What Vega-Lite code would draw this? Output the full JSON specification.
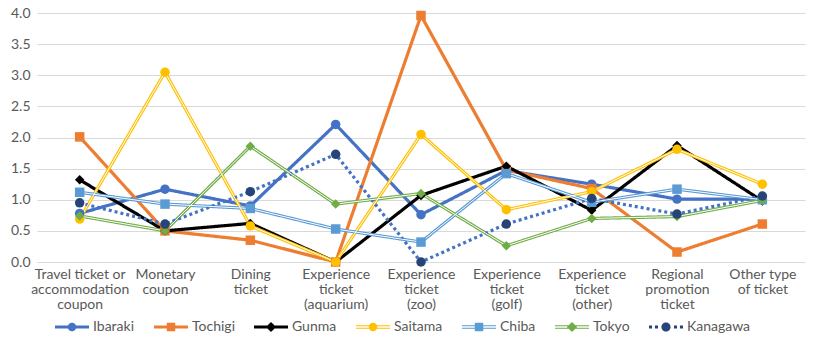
{
 "$schema": "https://vega.github.io/schema/vega-lite/v6.json",
 "width": 768,
 "height": 249,
 "autosize": "none",
 "padding": {"left": 37, "top": 13, "right": 10, "bottom": 81},
 "background": "white",
 "config": {
  "view": {"stroke": null},
  "font": "Lato",
  "axis": {"labelFont": "Lato", "labelColor": "#595959", "labelFontSize": 14}
 },
 "data": {"values": [
  {"category": "Travel ticket or\naccommodation\ncoupon", "series": "Ibaraki", "value": 0.78},
  {"category": "Monetary\ncoupon", "series": "Ibaraki", "value": 1.17},
  {"category": "Dining\nticket", "series": "Ibaraki", "value": 0.90},
  {"category": "Experience\nticket\n(aquarium)", "series": "Ibaraki", "value": 2.21},
  {"category": "Experience\nticket\n(zoo)", "series": "Ibaraki", "value": 0.76},
  {"category": "Experience\nticket\n(golf)", "series": "Ibaraki", "value": 1.47},
  {"category": "Experience\nticket\n(other)", "series": "Ibaraki", "value": 1.25},
  {"category": "Regional\npromotion\nticket", "series": "Ibaraki", "value": 1.01},
  {"category": "Other type\nof ticket", "series": "Ibaraki", "value": 1.01},
  {"category": "Travel ticket or\naccommodation\ncoupon", "series": "Tochigi", "value": 2.01},
  {"category": "Monetary\ncoupon", "series": "Tochigi", "value": 0.50},
  {"category": "Dining\nticket", "series": "Tochigi", "value": 0.35},
  {"category": "Experience\nticket\n(aquarium)", "series": "Tochigi", "value": 0.00},
  {"category": "Experience\nticket\n(zoo)", "series": "Tochigi", "value": 3.96},
  {"category": "Experience\nticket\n(golf)", "series": "Tochigi", "value": 1.48},
  {"category": "Experience\nticket\n(other)", "series": "Tochigi", "value": 1.18},
  {"category": "Regional\npromotion\nticket", "series": "Tochigi", "value": 0.16},
  {"category": "Other type\nof ticket", "series": "Tochigi", "value": 0.61},
  {"category": "Travel ticket or\naccommodation\ncoupon", "series": "Gunma", "value": 1.32},
  {"category": "Monetary\ncoupon", "series": "Gunma", "value": 0.50},
  {"category": "Dining\nticket", "series": "Gunma", "value": 0.62},
  {"category": "Experience\nticket\n(aquarium)", "series": "Gunma", "value": 0.00},
  {"category": "Experience\nticket\n(zoo)", "series": "Gunma", "value": 1.07},
  {"category": "Experience\nticket\n(golf)", "series": "Gunma", "value": 1.54},
  {"category": "Experience\nticket\n(other)", "series": "Gunma", "value": 0.83},
  {"category": "Regional\npromotion\nticket", "series": "Gunma", "value": 1.87},
  {"category": "Other type\nof ticket", "series": "Gunma", "value": 0.98},
  {"category": "Travel ticket or\naccommodation\ncoupon", "series": "Saitama", "value": 0.69},
  {"category": "Monetary\ncoupon", "series": "Saitama", "value": 3.05},
  {"category": "Dining\nticket", "series": "Saitama", "value": 0.58},
  {"category": "Experience\nticket\n(aquarium)", "series": "Saitama", "value": 0.00},
  {"category": "Experience\nticket\n(zoo)", "series": "Saitama", "value": 2.05},
  {"category": "Experience\nticket\n(golf)", "series": "Saitama", "value": 0.84},
  {"category": "Experience\nticket\n(other)", "series": "Saitama", "value": 1.13},
  {"category": "Regional\npromotion\nticket", "series": "Saitama", "value": 1.81},
  {"category": "Other type\nof ticket", "series": "Saitama", "value": 1.25},
  {"category": "Travel ticket or\naccommodation\ncoupon", "series": "Chiba", "value": 1.12},
  {"category": "Monetary\ncoupon", "series": "Chiba", "value": 0.93},
  {"category": "Dining\nticket", "series": "Chiba", "value": 0.86},
  {"category": "Experience\nticket\n(aquarium)", "series": "Chiba", "value": 0.53},
  {"category": "Experience\nticket\n(zoo)", "series": "Chiba", "value": 0.32},
  {"category": "Experience\nticket\n(golf)", "series": "Chiba", "value": 1.42},
  {"category": "Experience\nticket\n(other)", "series": "Chiba", "value": 0.96},
  {"category": "Regional\npromotion\nticket", "series": "Chiba", "value": 1.17},
  {"category": "Other type\nof ticket", "series": "Chiba", "value": 1.00},
  {"category": "Travel ticket or\naccommodation\ncoupon", "series": "Tokyo", "value": 0.74},
  {"category": "Monetary\ncoupon", "series": "Tokyo", "value": 0.50},
  {"category": "Dining\nticket", "series": "Tokyo", "value": 1.86},
  {"category": "Experience\nticket\n(aquarium)", "series": "Tokyo", "value": 0.93},
  {"category": "Experience\nticket\n(zoo)", "series": "Tokyo", "value": 1.10},
  {"category": "Experience\nticket\n(golf)", "series": "Tokyo", "value": 0.26},
  {"category": "Experience\nticket\n(other)", "series": "Tokyo", "value": 0.70},
  {"category": "Regional\npromotion\nticket", "series": "Tokyo", "value": 0.73},
  {"category": "Other type\nof ticket", "series": "Tokyo", "value": 0.99},
  {"category": "Travel ticket or\naccommodation\ncoupon", "series": "Kanagawa", "value": 0.95},
  {"category": "Monetary\ncoupon", "series": "Kanagawa", "value": 0.61},
  {"category": "Dining\nticket", "series": "Kanagawa", "value": 1.13},
  {"category": "Experience\nticket\n(aquarium)", "series": "Kanagawa", "value": 1.73},
  {"category": "Experience\nticket\n(zoo)", "series": "Kanagawa", "value": 0.00},
  {"category": "Experience\nticket\n(golf)", "series": "Kanagawa", "value": 0.61},
  {"category": "Experience\nticket\n(other)", "series": "Kanagawa", "value": 1.02},
  {"category": "Regional\npromotion\nticket", "series": "Kanagawa", "value": 0.77},
  {"category": "Other type\nof ticket", "series": "Kanagawa", "value": 1.06}
 ]},
 "encoding": {
  "x": {
   "field": "category", "type": "nominal", "sort": null,
   "scale": {"padding": 0.5},
   "axis": {"title": null, "labelAngle": 0, "domain": false, "ticks": false,
            "labelExpr": "split(datum.label, '\\n')", "labelLineHeight": 15,
            "labelBaseline": "top", "labelPadding": 5, "grid": false}
  },
  "y": {
   "field": "value", "type": "quantitative",
   "scale": {"domain": [0, 4], "nice": false},
   "axis": {"title": null, "values": [0, 0.5, 1, 1.5, 2, 2.5, 3, 3.5, 4], "format": ".1f",
            "domain": false, "ticks": false, "grid": true, "gridColor": "#D9D9D9",
            "gridWidth": 1, "labelPadding": 7}
  }
 },
 "layer": [
  {
   "mark": {"type": "line", "strokeWidth": 3.2},
   "encoding": {
    "color": {"field": "series", "type": "nominal", "legend": null,
     "scale": {"domain": ["Ibaraki", "Tochigi", "Gunma", "Saitama", "Chiba", "Tokyo", "Kanagawa"],
               "range": ["#4472C4", "#ED7D31", "#000000", "#FFC000", "#5B9BD5", "#70AD47", "#4472C4"]}},
    "strokeDash": {"field": "series", "type": "nominal", "legend": null,
     "scale": {"domain": ["Ibaraki", "Tochigi", "Gunma", "Saitama", "Chiba", "Tokyo", "Kanagawa"],
               "range": [[1, 0], [1, 0], [1, 0], [1, 0], [1, 0], [1, 0], [3, 3]]}}
   }
  },
  {
   "transform": [{"filter": {"field": "series", "oneOf": ["Saitama", "Chiba", "Tokyo"]}}],
   "mark": {"type": "line", "strokeWidth": 1, "color": "white"},
   "encoding": {"detail": {"field": "series", "type": "nominal"}}
  },
  {
   "mark": {"type": "point", "filled": true, "size": 90, "opacity": 1},
   "encoding": {
    "color": {"field": "series", "type": "nominal", "legend": null,
     "scale": {"domain": ["Ibaraki", "Tochigi", "Gunma", "Saitama", "Chiba", "Tokyo", "Kanagawa"],
               "range": ["#4472C4", "#ED7D31", "#000000", "#FFC000", "#5B9BD5", "#70AD47", "#264478"]}},
    "shape": {"field": "series", "type": "nominal", "legend": null,
     "scale": {"domain": ["Ibaraki", "Tochigi", "Gunma", "Saitama", "Chiba", "Tokyo", "Kanagawa"],
               "range": ["circle", "square", "diamond", "circle", "square", "diamond", "circle"]}}
   }
  },
  {
   "mark": {"type": "point", "filled": true, "opacity": 0},
   "encoding": {
    "color": {"field": "series", "type": "nominal",
     "scale": {"domain": ["Ibaraki", "Tochigi", "Gunma", "Saitama", "Chiba", "Tokyo", "Kanagawa"],
               "range": ["#4472C4", "#ED7D31", "#000000", "#FFC000", "#5B9BD5", "#70AD47", "#264478"]},
     "legend": {"title": null, "orient": "none", "legendX": 18, "legendY": 297, "direction": "horizontal",
                "symbolSize": 1156, "symbolStrokeWidth": 0, "symbolOpacity": 1,
                "labelFontSize": 14, "labelFont": "Lato", "labelColor": "#595959",
                "labelOffset": 4, "columnPadding": 19,
                "encode": {"symbols": {"update": {"opacity": {"value": 1}, "fillOpacity": {"value": 1}}}}}},
    "shape": {"field": "series", "type": "nominal",
     "scale": {"domain": ["Ibaraki", "Tochigi", "Gunma", "Saitama", "Chiba", "Tokyo", "Kanagawa"],
               "range": [
                "M-1,-0.09H1V0.09H-1Z M0.25,0A0.25,0.25 0 1,1 -0.25,0A0.25,0.25 0 1,1 0.25,0Z",
                "M-1,-0.09H1V0.09H-1Z M-0.25,-0.25H0.25V0.25H-0.25Z",
                "M-1,-0.09H1V0.09H-1Z M0,-0.3L0.3,0L0,0.3L-0.3,0Z",
                "M-1,-0.1H1V-0.04H-1Z M-1,0.04H1V0.1H-1Z M0.25,0A0.25,0.25 0 1,1 -0.25,0A0.25,0.25 0 1,1 0.25,0Z",
                "M-1,-0.1H1V-0.04H-1Z M-1,0.04H1V0.1H-1Z M-0.25,-0.25H0.25V0.25H-0.25Z",
                "M-1,-0.1H1V-0.04H-1Z M-1,0.04H1V0.1H-1Z M0,-0.3L0.3,0L0,0.3L-0.3,0Z",
                "M-1,-0.09h0.18v0.18h-0.18Z M-0.65,-0.09h0.18v0.18h-0.18Z M0.47,-0.09h0.18v0.18h-0.18Z M0.82,-0.09h0.18v0.18h-0.18Z M0.27,0A0.27,0.27 0 1,1 -0.27,0A0.27,0.27 0 1,1 0.27,0Z"
               ]},
     "legend": {"title": null}}
   }
  }
 ],
 "resolve": {"scale": {"color": "independent", "shape": "independent", "strokeDash": "independent"}}
}
